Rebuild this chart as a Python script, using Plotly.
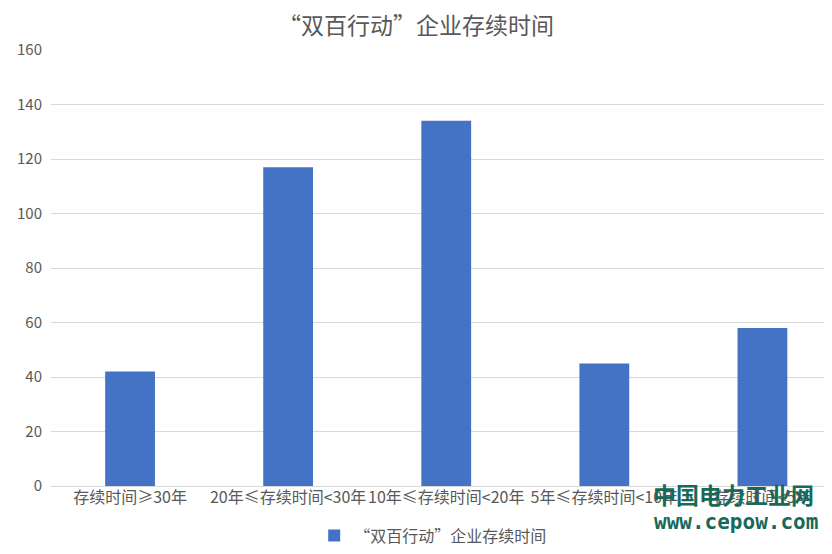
import plotly.graph_objects as go

categories = ["存续时间≥30年", "20年≤存续时间<30年", "10年≤存续时间<20年", "5年≤存续时间<10年", "存续时间<5年"]
values = [42, 117, 134, 45, 58]
series_name = "“双百行动”企业存续时间"
title_text = "“双百行动”企业存续时间"
y_ticks = [0, 20, 40, 60, 80, 100, 120, 140, 160]

FONT = "Noto Sans CJK SC, Microsoft YaHei, sans-serif"
GREY = "#595959"
OFF = 8  # page body margin

fig = go.Figure()
fig.add_trace(go.Bar(
    x=list(range(len(categories))), y=values, name=series_name,
    marker=dict(color="#4472c4", line=dict(width=0)),
    width=0.315, showlegend=True,
))

fig.update_layout(
    width=832, height=554,
    margin=dict(l=49 - OFF, r=1 + OFF, t=50 - OFF, b=65 + OFF),
    paper_bgcolor="white", plot_bgcolor="white",
    font=dict(family=FONT, color=GREY, size=16),
    title=dict(text=title_text, x=(416 - OFF) / 832, xanchor="center", y=1 - (26 - OFF) / 554,
               yanchor="middle", font=dict(size=23, color=GREY, family=FONT)),
    showlegend=True,
    legend=dict(orientation="h", x=0.49, xanchor="center", y=-0.114, yanchor="middle",
                font=dict(size=16, color=GREY), bgcolor="rgba(0,0,0,0)"),
    bargap=0.685,
)
fig.update_xaxes(
    tickmode="array", tickvals=list(range(len(categories))), ticktext=categories,
    range=[-0.5, -0.5 + 782 / 158.5], tickangle=0, showgrid=False, zeroline=False,
    showline=False, ticks="", tickfont=dict(size=16, color=GREY), fixedrange=True,
)
fig.update_yaxes(
    range=[0, 160], tickvals=y_ticks, showgrid=True, gridcolor="#d9d9d9", gridwidth=1,
    zeroline=True, zerolinecolor="#d9d9d9", zerolinewidth=1, showline=False, ticks="",
    tickfont=dict(size=15, color=GREY), ticklabelstandoff=8,
)

fig.add_annotation(text="<b>中国电力工业网</b>", xref="paper", yref="paper", x=(733 - 49) / 782,
                   y=-8 / 439, xanchor="center", yanchor="middle", showarrow=False,
                   font=dict(size=23, color="#17695a", family=FONT))
fig.add_annotation(text="<b>www.cepow.com</b>", xref="paper", yref="paper", x=(736 - 49) / 782,
                   y=-36 / 439, xanchor="center", yanchor="middle", showarrow=False,
                   font=dict(size=21, color="#17695a", family="DejaVu Sans Mono, monospace"))

fig.write_html("out.html")
